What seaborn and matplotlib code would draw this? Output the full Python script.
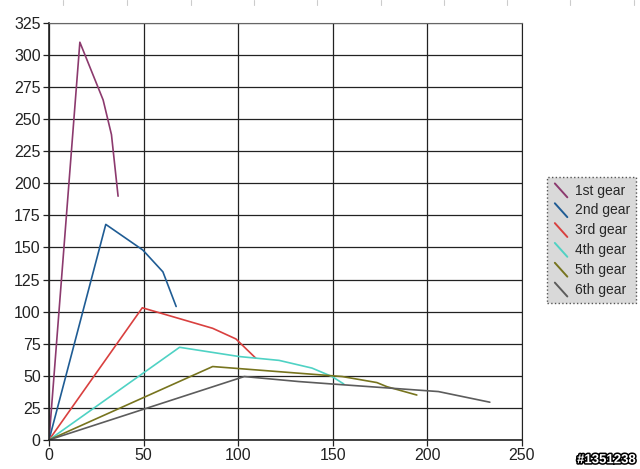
import pandas as pd
import matplotlib.pyplot as plt
import matplotlib.patheffects as pe
from matplotlib.legend_handler import HandlerLine2D
from matplotlib.lines import Line2D
import seaborn as sns

# Values (x = speed, y = value)
gears = ["1st gear", "2nd gear", "3rd gear", "4th gear", "5th gear", "6th gear"]
x_1st = [0, 16.3, 28.6, 33, 36.5]
y_1st = [0, 310, 265, 238, 190]
x_2nd = [0, 30, 49.6, 60.2, 67.2]
y_2nd = [0, 168, 148, 131, 104]
x_3rd = [0, 49.3, 86.5, 98.8, 109.3]
y_3rd = [0, 103, 87, 78.7, 63.7]
x_4th = [0, 69, 100.5, 121.6, 139, 149.6, 155.8]
y_4th = [0, 72.2, 65, 62, 56, 49.4, 43.6]
x_5th = [0, 86.5, 132, 155, 173.3, 178.6, 194.4]
y_5th = [0, 57.2, 52, 49.4, 44.7, 41.5, 35]
x_6th = [0, 103.2, 132, 149.6, 205.8, 233]
y_6th = [0, 49.4, 45.5, 43.6, 37.7, 29.4]

xs = [x_1st, x_2nd, x_3rd, x_4th, x_5th, x_6th]
ys = [y_1st, y_2nd, y_3rd, y_4th, y_5th, y_6th]
colors = ["#8c3a6e", "#1f5c94", "#d9403f", "#4fd2c4", "#77741e", "#5c5c5c"]

rows = []
for g, xv, yv in zip(gears, xs, ys):
    for a, b in zip(xv, yv):
        rows.append({"gear": g, "speed": a, "value": b})
df = pd.DataFrame(rows)

sns.set_style("white")
plt.rcParams["font.family"] = ["Liberation Sans", "DejaVu Sans"]

fig = plt.figure(figsize=(6.4, 4.69), dpi=100)
ax = fig.add_axes([0.0766, 0.062, 0.739, 0.889])

sns.lineplot(data=df, x="speed", y="value", hue="gear", palette=colors,
             sort=False, estimator=None, linewidth=1.2, ax=ax, legend=False)

ax.set_xlim(0, 250)
ax.set_ylim(0, 325)
ax.set_xticks(range(0, 251, 50))
ax.set_yticks(range(0, 326, 25))
ax.grid(True, color="#222222", linewidth=0.9)
ax.set_axisbelow(True)
ax.set_xlabel("")
ax.set_ylabel("")
ax.tick_params(axis="both", labelsize=11.5, length=4, width=0.9, pad=2,
               direction="out", colors="#222222", bottom=True, left=True)
for s in ["left", "bottom"]:
    ax.spines[s].set_color("#222222")
    ax.spines[s].set_linewidth(1.2)
ax.spines["top"].set_color("#666666")
ax.spines["right"].set_color("#222222")


class DiagonalHandler(HandlerLine2D):
    def create_artists(self, legend, orig_handle, xdescent, ydescent,
                       width, height, fontsize, trans):
        line = Line2D([xdescent + 1, xdescent + width - 1],
                      [ydescent + height + 1, ydescent - 2],
                      color=orig_handle.get_color(), linewidth=1.4)
        line.set_transform(trans)
        return [line]


handles = [Line2D([], [], color=c) for c in colors]
leg = fig.legend(handles, gears, loc="center left",
                 bbox_to_anchor=(0.855, 0.488), frameon=True, fancybox=False,
                 fontsize=10, handlelength=1.1, handletextpad=0.45,
                 labelspacing=0.42, borderpad=0.45, borderaxespad=0,
                 handler_map={Line2D: DiagonalHandler()})
frame = leg.get_frame()
frame.set_facecolor("#d9d9d9")
frame.set_edgecolor("#555555")
frame.set_linestyle(":")
frame.set_linewidth(1.0)
frame.set_alpha(1)

# faint marks along the top edge
for px in [63, 127, 191, 254, 317, 381, 444, 507, 570, 634]:
    fig.add_artist(Line2D([px / 640, px / 640], [1.0, 0.99], color="#cccccc",
                          linewidth=0.8, transform=fig.transFigure))

fig.text(0.994, 0.006, "#1351238", ha="right", va="bottom", fontsize=9.5,
         fontweight="bold", color="white",
         path_effects=[pe.withStroke(linewidth=2.2, foreground="black")])

plt.savefig("out.png", dpi=100)
plt.close()
